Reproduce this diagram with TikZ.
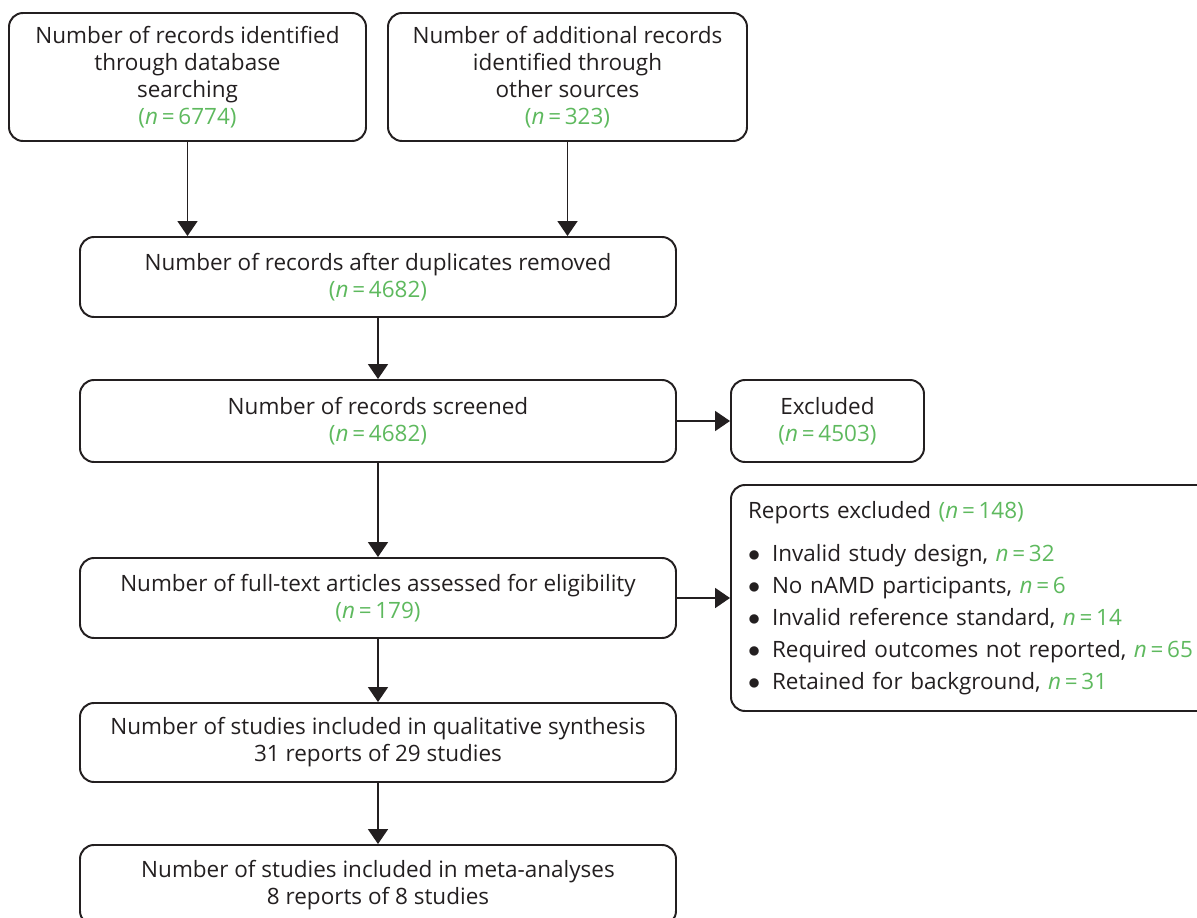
\documentclass[tikz,border=0pt]{standalone}
\usepackage{fontspec}
\setmainfont{Open Sans}
\usetikzlibrary{arrows.meta, positioning}
\definecolor{ngreen}{RGB}{94,185,94}
\definecolor{inkblack}{RGB}{35,31,32}
\newcommand{\nval}[1]{\textcolor{ngreen}{(\textit{n}\,=\,#1)}}
\newcommand{\nitem}[1]{\textcolor{ngreen}{\textit{n}\,=\,#1}}
\newcommand{\bul}{\makebox[0.6cm][l]{$\bullet$}}

\begin{document}
\begin{tikzpicture}[
	font=\fontsize{16}{19.2}\selectfont,
	box/.style={draw=inkblack, line width=1.4pt, rounded corners=0.35cm, align=center, text=inkblack, minimum height=2cm, inner sep=0pt},
	wide/.style={box, minimum width=14.9cm},
	arr/.style={-{Triangle[length=0.375cm, width=0.5cm]}, line width=1.4pt, draw=inkblack}
	]
	\useasboundingbox (0,0) rectangle (29.925,-22.95);
	
	% identification
	\node[box, minimum width=8.925cm, minimum height=3.2cm] (dbsearch) at (4.6875,-1.925) {Number of records identified\\ through database\\ searching\\ \nval{6774}};
	\node[box, minimum width=8.975cm, minimum height=3.2cm] (othersrc) at (14.1875,-1.925) {Number of additional records\\ identified through\\ other sources\\ \nval{323}};
	
	% screening
	\node[wide] (dedup) at (9.45,-6.925) {Number of records after duplicates removed\\ \nval{4682}};
	\node[wide, minimum height=2.05cm] (screened) at (9.45,-10.525) {Number of records screened\\ \nval{4682}};
	\node[box, minimum width=4.825cm, minimum height=2.05cm] (excl) at (20.6875,-10.525) {Excluded\\ \nval{4503}};
	
	% eligibility
	\node[wide] (fulltext) at (9.45,-14.95) {Number of full-text articles assessed for eligibility\\ \nval{179}};
	\node[box, minimum height=5.65cm, align=left, text width=11.5cm, inner xsep=0.425cm] (repexcl) at (24.45,-14.95) {Reports excluded \nval{148}\\[11.4pt]
		\bul Invalid study design, \nitem{32}\\[3.6pt]
		\bul No nAMD participants, \nitem{6}\\[3.6pt]
		\bul Invalid reference standard, \nitem{14}\\[3.6pt]
		\bul Required outcomes not reported, \nitem{65}\\[3.6pt]
		\bul Retained for background, \nitem{31}};
	
	% included
	\node[wide, minimum height=1.975cm] (qual) at (9.45,-18.5625) {Number of studies included in qualitative synthesis\\ 31 reports of 29 studies};
	\node[wide] (meta) at (9.45,-22.125) {Number of studies included in meta-analyses\\ 8 reports of 8 studies};
	
	\draw[arr] (dbsearch.south) -- (dbsearch.south |- dedup.north);
	\draw[arr] (othersrc.south) -- (othersrc.south |- dedup.north);
	\draw[arr] (dedup) -- (screened);
	\draw[arr] (screened) -- (excl);
	\draw[arr] (screened) -- (fulltext);
	\draw[arr] (fulltext) -- (repexcl);
	\draw[arr] (fulltext) -- (qual);
	\draw[arr] (qual) -- (meta);
	
\end{tikzpicture}
\end{document}
